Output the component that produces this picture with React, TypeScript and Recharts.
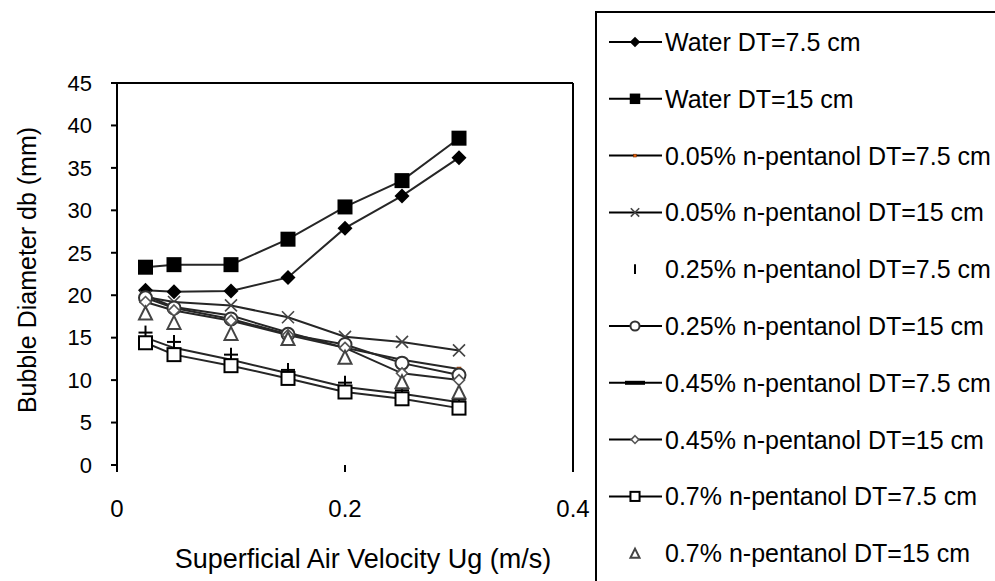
import React from "react"
import { LineChart, Line, XAxis, YAxis, Label, ReferenceLine } from "recharts"

// superficial air velocity Ug (m/s)
const velocity = [0.025, 0.05, 0.1, 0.15, 0.2, 0.25, 0.3]

// bubble diameter db (mm), one list per run
const water75 = [20.6, 20.4, 20.5, 22.1, 27.9, 31.7, 36.2]
const water15 = [23.3, 23.6, 23.6, 26.6, 30.4, 33.5, 38.5]
const pent005_75 = [20.0, 18.6, 17.6, 15.6, 13.8, 12.4, 11.3]
const pent005_15 = [19.8, 19.2, 18.8, 17.4, 15.1, 14.5, 13.5]
const pent025_75 = [15.6, 14.5, 13.0, 11.2, 9.7, 8.8, 7.7]
const pent025_15 = [19.7, 18.5, 17.2, 15.4, 14.2, 12.0, 10.6]
const pent045_75 = [15.0, 13.8, 12.4, 10.8, 9.2, 8.4, 7.4]
const pent045_15 = [19.2, 18.2, 17.0, 15.3, 13.8, 10.8, 10.0]
const pent07_75 = [14.4, 13.0, 11.7, 10.2, 8.6, 7.8, 6.7]
const pent07_15 = [17.9, 16.8, 15.5, 14.9, 12.7, 9.8, 8.6]

const xTicks = [0, 0.2, 0.4]
const yTicks = [0, 5, 10, 15, 20, 25, 30, 35, 40, 45]

type MarkerKind =
  | "diamondFilled"
  | "squareFilled"
  | "dotOrange"
  | "cross"
  | "plus"
  | "circle"
  | "none"
  | "diamondOpen"
  | "squareOpen"
  | "triangle"

const series: { key: string; name: string; values: number[]; marker: MarkerKind; line: boolean }[] = [
  { key: "w75", name: "Water DT=7.5 cm", values: water75, marker: "diamondFilled", line: true },
  { key: "w15", name: "Water DT=15 cm", values: water15, marker: "squareFilled", line: true },
  { key: "p005a", name: "0.05% n-pentanol DT=7.5 cm", values: pent005_75, marker: "dotOrange", line: true },
  { key: "p005b", name: "0.05% n-pentanol DT=15 cm", values: pent005_15, marker: "cross", line: true },
  { key: "p025a", name: "0.25% n-pentanol DT=7.5 cm", values: pent025_75, marker: "plus", line: false },
  { key: "p025b", name: "0.25% n-pentanol DT=15 cm", values: pent025_15, marker: "circle", line: true },
  { key: "p045a", name: "0.45% n-pentanol DT=7.5 cm", values: pent045_75, marker: "none", line: true },
  { key: "p045b", name: "0.45% n-pentanol DT=15 cm", values: pent045_15, marker: "diamondOpen", line: true },
  { key: "p07a", name: "0.7% n-pentanol DT=7.5 cm", values: pent07_75, marker: "squareOpen", line: true },
  { key: "p07b", name: "0.7% n-pentanol DT=15 cm", values: pent07_15, marker: "triangle", line: false },
]

const rows = velocity.map((x, i) => {
  const row: Record<string, number> = { x }
  series.forEach((s) => (row[s.key] = s.values[i]))
  return row
})

const FONT = "'Liberation Sans', Arial, sans-serif"

function Marker({ kind, cx, cy, s = 1 }: { kind: MarkerKind; cx: number; cy: number; s?: number }) {
  switch (kind) {
    case "diamondFilled": {
      const h = 7.5 * s
      return <polygon points={`${cx},${cy - h} ${cx + h},${cy} ${cx},${cy + h} ${cx - h},${cy}`} fill="#000" />
    }
    case "squareFilled": {
      const h = 7.5 * s
      return <rect x={cx - h} y={cy - h} width={2 * h} height={2 * h} fill="#000" />
    }
    case "dotOrange": {
      const h = 2 * s
      return <rect x={cx - h} y={cy - h} width={2 * h} height={2 * h} fill="#e8600a" stroke="#7a3000" strokeWidth={0.6} />
    }
    case "cross": {
      const h = 6 * s
      return (
        <g stroke="#444" strokeWidth={1.6}>
          <line x1={cx - h} y1={cy - h} x2={cx + h} y2={cy + h} />
          <line x1={cx - h} y1={cy + h} x2={cx + h} y2={cy - h} />
        </g>
      )
    }
    case "plus": {
      const h = 7 * s
      return (
        <g stroke="#000" strokeWidth={2}>
          <line x1={cx} y1={cy - h} x2={cx} y2={cy + h} />
          {s >= 1 && <line x1={cx - h} y1={cy} x2={cx + h} y2={cy} />}
        </g>
      )
    }
    case "circle":
      return <circle cx={cx} cy={cy} r={6.5 * s} fill="#fff" stroke="#333" strokeWidth={2} />
    case "diamondOpen": {
      const h = 5.5 * s
      return (
        <polygon
          points={`${cx},${cy - h} ${cx + h},${cy} ${cx},${cy + h} ${cx - h},${cy}`}
          fill="#fff"
          stroke="#555"
          strokeWidth={1.6}
        />
      )
    }
    case "squareOpen": {
      const h = 6.5 * s
      return <rect x={cx - h} y={cy - h} width={2 * h} height={2 * h} fill="#fff" stroke="#000" strokeWidth={2} />
    }
    case "triangle": {
      const h = 6.5 * s
      return (
        <polygon
          points={`${cx},${cy - h} ${cx + h},${cy + h} ${cx - h},${cy + h}`}
          fill="#fff"
          stroke="#444"
          strokeWidth={2}
        />
      )
    }
    default:
      return null
  }
}

function LegendBox() {
  const rowGap = 56.8
  return (
    <svg width={400} height={572} style={{ position: "absolute", left: 595, top: 11 }}>
      <rect x={1} y={1} width={420} height={600} fill="#fff" stroke="#000" strokeWidth={2} />
      {series.map((s, i) => {
        const y = 31 + i * rowGap
        return (
          <g key={s.key}>
            {s.line && <line x1={14} x2={67} y1={y} y2={y} stroke="#000" strokeWidth={2} />}
            {s.marker === "none" && <line x1={30} x2={50} y1={y} y2={y} stroke="#000" strokeWidth={4} />}
            <Marker kind={s.marker} cx={40} cy={y} s={0.7} />
            <text x={70} y={y} dy="0.36em" fontFamily={FONT} fontSize={25} fill="#000">
              {s.name}
            </text>
          </g>
        )
      })}
    </svg>
  )
}

export default function App() {
  return (
    <div style={{ position: "absolute", left: 0, top: 0, width: 995, height: 581, overflow: "hidden", background: "#fff" }}>
      <LineChart width={995} height={581} data={rows} margin={{ top: 83, right: 422, left: 0, bottom: 0 }}>
        <XAxis
          dataKey="x"
          type="number"
          domain={[0, 0.4]}
          ticks={xTicks}
          tickFormatter={(v) => String(v)}
          axisLine={false}
          tickLine={{ stroke: "#000", strokeWidth: 2 }}
          tickSize={7}
          tickMargin={28}
          height={116}
          tick={{ fill: "#000", fontSize: 24, fontFamily: FONT }}
        >
          <Label
            content={() => (
              <text x={363} y={558} dy="0.36em" textAnchor="middle" fontFamily={FONT} fontSize={27} fill="#000">
                Superficial Air Velocity Ug (m/s)
              </text>
            )}
          />
        </XAxis>
        <YAxis
          type="number"
          domain={[0, 45]}
          ticks={yTicks}
          width={117}
          axisLine={{ stroke: "#000", strokeWidth: 2 }}
          tickLine={{ stroke: "#000", strokeWidth: 2 }}
          tickSize={6}
          tickMargin={19}
          tick={{ fill: "#000", fontSize: 22, fontFamily: FONT }}
        >
          <Label
            content={() => (
              <text
                x={27}
                y={270}
                dy="0.36em"
                textAnchor="middle"
                transform="rotate(-90 27 270)"
                fontFamily={FONT}
                fontSize={25}
                fill="#000"
              >
                Bubble Diameter db (mm)
              </text>
            )}
          />
        </YAxis>
        <ReferenceLine y={45} stroke="#000" strokeWidth={2} />
        <ReferenceLine x={0.4} stroke="#000" strokeWidth={2} />
        {series.map((s) => (
          <Line
            key={s.key}
            dataKey={s.key}
            name={s.name}
            type="linear"
            stroke={s.line ? "#262626" : "none"}
            strokeWidth={s.line ? 2 : 0}
            isAnimationActive={false}
            activeDot={false}
            dot={(p: any) => <Marker key={`${s.key}-${p.index}`} kind={s.marker} cx={p.cx} cy={p.cy} />}
          />
        ))}
      </LineChart>
      <LegendBox />
    </div>
  )
}
